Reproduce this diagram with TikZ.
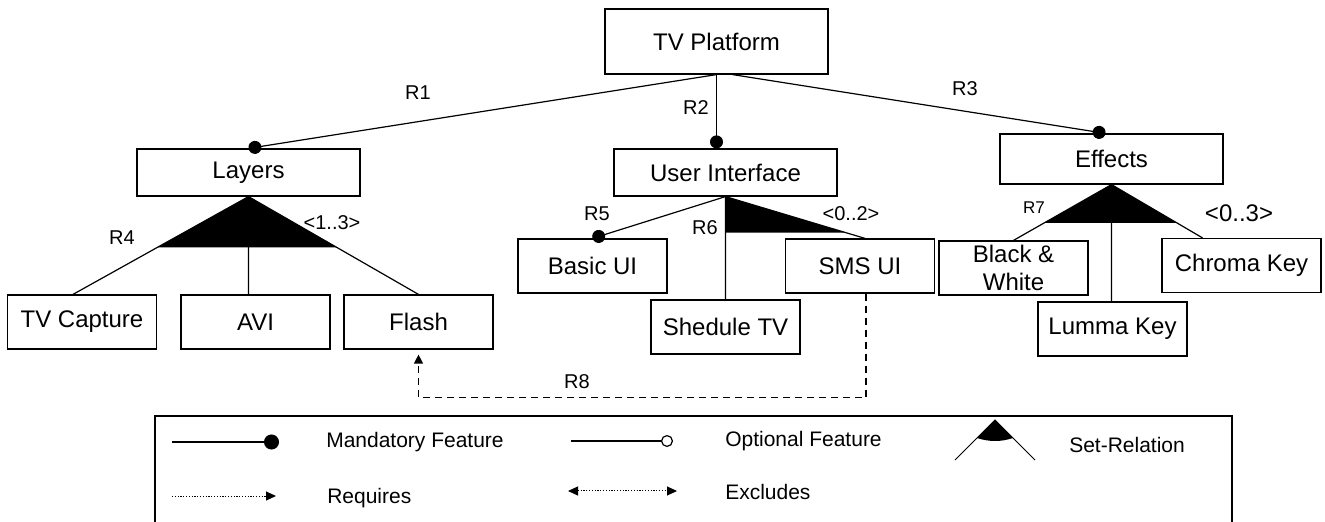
\documentclass[tikz,border=0pt]{standalone}
\usepackage{fontspec}
\setmainfont{Liberation Sans}
\usetikzlibrary{arrows.meta,calc}

\begin{document}
\begin{tikzpicture}[x=0.5pt,y=-0.5pt,line width=0.6pt,
	feature/.style={draw, minimum width=74.5pt, minimum height=27pt, inner sep=1pt, align=center, font=\fontsize{12}{14}\selectfont},
	group/.style={feature, minimum width=111.5pt, minimum height=23.5pt},
	rel/.style={font=\fontsize{10}{12}\selectfont},
	legend/.style={anchor=west, font=\fontsize{10.5}{12}\selectfont},
	mand/.style={-{Circle[length=6.5pt]}},
	opt/.style={-{Circle[open,length=6pt]}},
	req/.style={dash pattern=on 3.5pt off 2.5pt, -{Triangle[length=4.5pt,width=4.5pt]}, shorten >=2.5pt},
	dots/.style={line width=0.5pt, dash pattern=on 0.6pt off 0.8pt}]
	\useasboundingbox (0,0) rectangle (1325,522);

				% features
				\node[group, minimum height=32.5pt] (TV)  at (716.5,41.5) {TV Platform};
				\node[group]       (L)   at (248.5,172.5)  {Layers};
				\node[group]       (UI)  at (725.5,172.5)  {User Interface};
				\node[group, minimum height=25pt] (E) at (1111.5,159) {Effects};
				\node[feature]     (TC)  at (82,322)       {TV Capture};
				\node[feature]     (AVI) at (255.5,322)    {AVI};
				\node[feature]     (F)   at (418.5,322)    {Flash};
				\node[feature]     (BUI) at (592.5,266)    {Basic UI};
				\node[feature]     (ST)  at (725.5,327)    {Shedule TV};
				\node[feature]     (SMS) at (860,266)      {SMS UI};
				\node[feature]     (BW)  at (1013.5,268)   {Black \&\\White};
				\node[feature]     (LK)  at (1112.5,329)   {Lumma Key};
				\node[feature, minimum width=79.5pt] (CK) at (1241.5,265.5) {Chroma Key};

				\coordinate (TCt)  at ([xshift=-4.5pt]TC.north);
				\coordinate (SMSt) at ([xshift=2.5pt]SMS.north);
				\coordinate (CKt)  at ([xshift=-19.5pt]CK.north);

				% mandatory relations
				\draw[mand] (TV.south) -- (L.north);
				\draw[mand] (TV.south) -- (TV.south |- UI.north);
				\draw[mand] ([xshift=8pt]TV.south) -- ([xshift=-3pt]E.north);
				\draw[mand] (UI.south) -- (BUI.north);

				% set relations
				\fill (L.south) -- ($(L.south)!0.52!(TCt)$) -- ($(L.south)!0.52!(F.north)$) -- cycle;
				\draw (L.south) -- (TCt)  (L.south) -- (L.south |- AVI.north)  (L.south) -- (F.north);

				\coordinate (R6b) at ($(UI.south)!0.86!(SMSt)$);
				\fill (UI.south) -- (R6b -| UI.south) -- (R6b) -- cycle;
				\draw (UI.south) -- (UI.south |- ST.north)  (UI.south) -- (SMSt);

				\fill (E.south) -- ($(E.south)!0.684!(BW.north)$) -- ($(E.south)!0.72!(CKt)$) -- cycle;
				\draw (E.south) -- (BW.north)  (E.south) -- (E.south |- LK.north)  (E.south) -- (CKt);

				% requires
				\draw[req] ([xshift=3pt]SMS.south) -- ++(0,104) -| (F.south);

				% labels
				\node[rel] (r1) at (418,93)  {R1};
				\node[rel] (r2) at (696,108) {R2};
				\node[rel] (r3) at (965,89)  {R3};
				\node[rel] (r4) at (122,238) {R4};
				\node[rel] (r5) at (597,214) {R5};
				\node[rel] (r6) at (705,228) {R6};
				\node[rel, font=\fontsize{8.5}{10}\selectfont] (r7) at (1034,208) {R7};
				\node[rel] (r8) at (577,382) {R8};
				\node[rel] (c4) at (332,223) {<1..3>};
				\node[rel] (c6) at (851,214) {<0..2>};
				\node[rel, font=\fontsize{12}{14}\selectfont] (c7) at (1239,213) {<0..3>};

				% legend
				\draw (155,522) |- (1232,416) -- (1232,522);
				\coordinate (m1) at (172,442);  \coordinate (m2) at (279,442);
				\coordinate (o1) at (571,441);  \coordinate (o2) at (673,441);
				\coordinate (q1) at (172,496);  \coordinate (q2) at (276,496);
				\coordinate (x1) at (568,491);  \coordinate (x2) at (677,491);
				\coordinate (s0) at (995,420);
				\draw[mand, -{Circle[length=7.5pt]}] (m1) -- (m2);
				\draw[opt]  (o1) -- (o2);
				\draw[dots, -{Triangle[length=5pt,width=4.5pt]}] (q1) -- (q2);
				\draw[dots, {Triangle[length=5pt,width=4.5pt]}-{Triangle[length=5pt,width=4.5pt]}] (x1) -- (x2);
				\fill (s0) -- (977,438) .. controls (989,442) and (1001,442) .. (1013,438) -- cycle;
				\draw[line width=0.5pt] (955,460) -- (s0) -- (1035,460);
				\node[legend] (lm) at (319,442)  {Mandatory Feature};
				\node[legend] (lo) at (718,441)  {Optional Feature};
				\node[legend] (ls) at (1062,445) {Set-Relation};
				\node[legend] (lq) at (320,498)  {Requires};
				\node[legend] (lx) at (718,492)  {Excludes};
\end{tikzpicture}
\end{document}
